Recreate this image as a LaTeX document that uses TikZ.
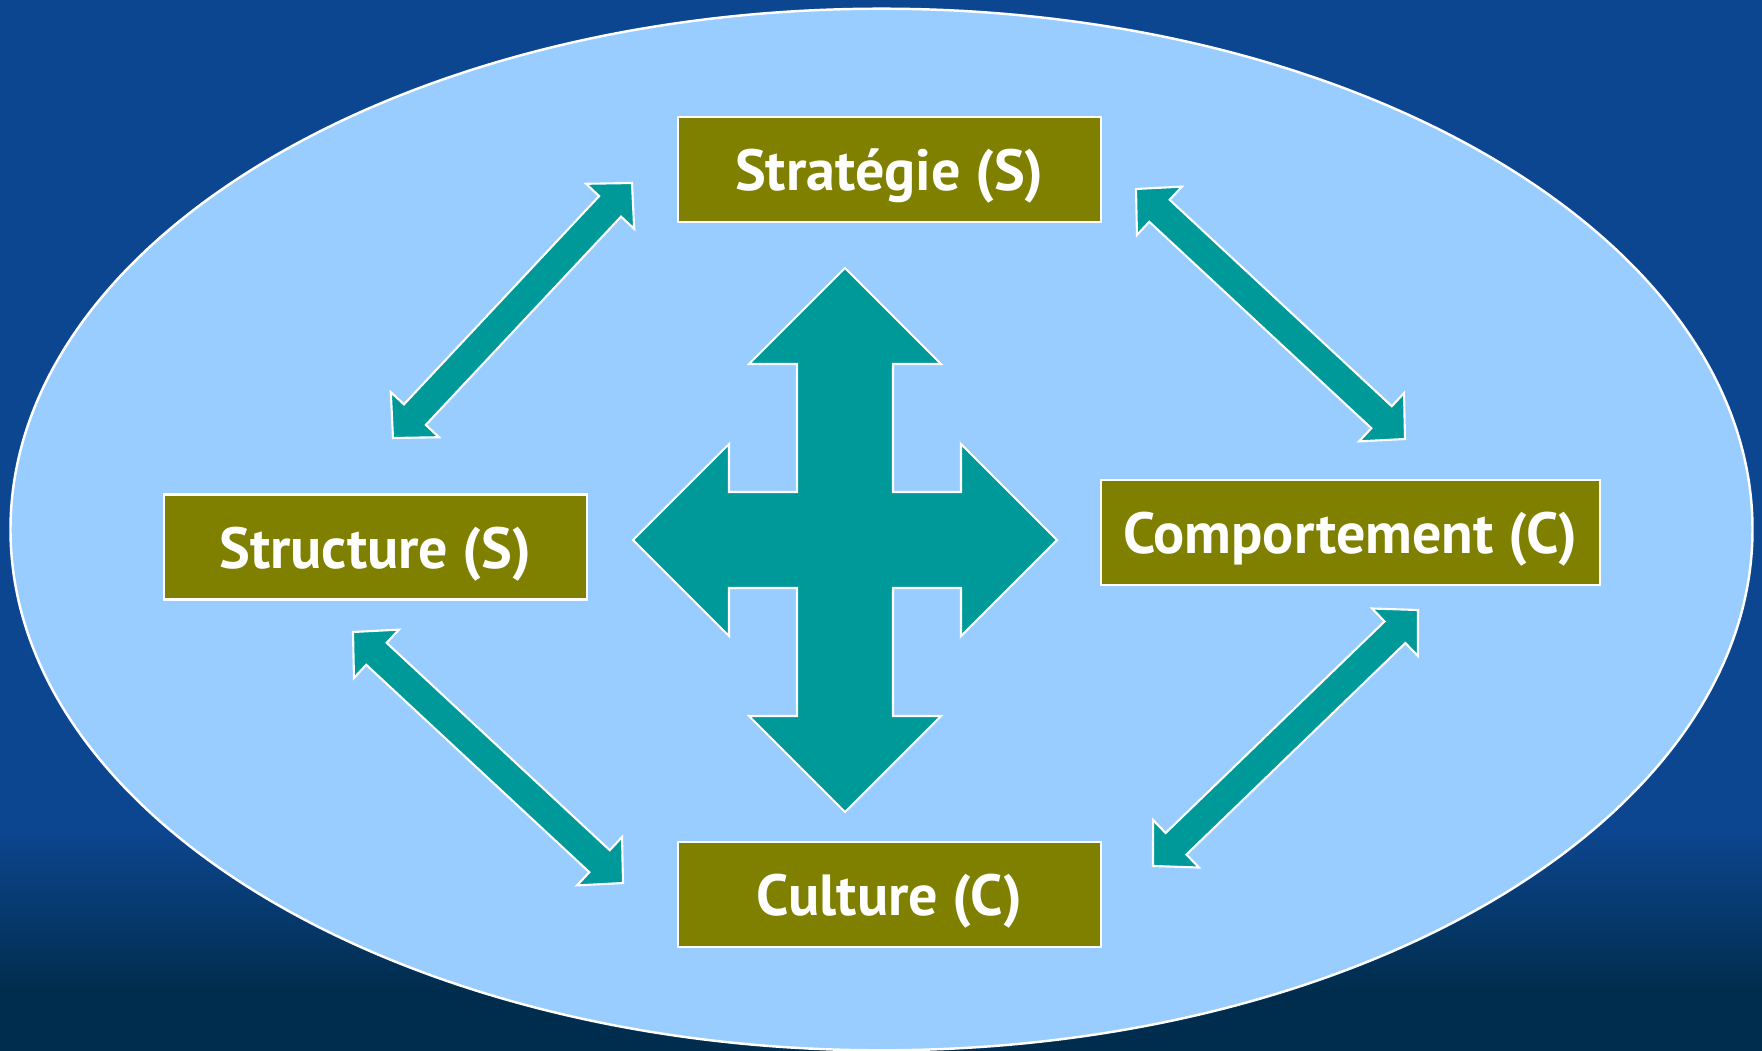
\documentclass[tikz,border=0pt]{standalone}
\usepackage{fontspec}
\setmainfont{PT Sans}
\usepackage{tikz}
\usetikzlibrary{calc}

\definecolor{bgtop}{HTML}{0D4690}
\definecolor{bgbot}{HTML}{002D4D}
\definecolor{ovalblue}{HTML}{99CCFF}
\definecolor{boxolive}{HTML}{808000}
\definecolor{arrowteal}{HTML}{009999}

\tikzset{
  box/.style={draw=white, line width=0.6pt, fill=boxolive, text=white,
    font=\bfseries\fontsize{16.5}{20}\selectfont, text height=13pt, text depth=1pt,
    minimum width=4.23cm, minimum height=1.05cm, inner sep=0pt},
  tealarrow/.style={draw=white, line width=0.6pt, fill=arrowteal, line join=miter},
  oval/.style={draw=white, line width=0.7pt, fill=ovalblue}
}

\begin{document}
\begin{tikzpicture}[x=0.01cm, y=-0.01cm]
		\useasboundingbox (0,0) rectangle (1762,1051);
		% background
		\fill[bgtop] (0,0) rectangle (1762,830);
		\shade[top color=bgtop, bottom color=bgbot] (0,829) rectangle (1762,990);
		\fill[bgbot] (0,989) rectangle (1762,1051);
		
		\draw[oval] (881.5,529.5) ellipse [x radius=8.705cm, y radius=5.205cm];
		
		\node[box] (strategie) at (889.5,169.5) {Stratégie (S)};
		\node[box] (structure) at (375.5,547) {Structure (S)};
		\node[box, minimum width=4.99cm] (comportement) at (1350.5,532.5) {Comportement (C)};
		\node[box] (culture) at (889.5,894.5) {Culture (C)};
		
		% tips of the double arrows
		\coordinate (a1) at (393,438);   \coordinate (b1) at (632,183);
		\coordinate (a2) at (1136,189);  \coordinate (b2) at (1405,439);
		\coordinate (a3) at (353,632);   \coordinate (b3) at (623,883);
		\coordinate (a4) at (1418,610);  \coordinate (b4) at (1153,866);
		
		\foreach \a/\b in {a1/b1, a2/b2, a3/b3, a4/b4} {
			\coordinate (ha) at ($(\a)!0.32cm!(\b)$);
			\coordinate (hb) at ($(\b)!0.32cm!(\a)$);
			\draw[tealarrow] (\a) -- ($(ha)!0.33cm!90:(\a)$) -- ($(ha)!0.15cm!90:(\a)$)
				-- ($(hb)!0.15cm!-90:(\b)$) -- ($(hb)!0.33cm!-90:(\b)$) -- (\b)
				-- ($(hb)!0.33cm!90:(\b)$) -- ($(hb)!0.15cm!90:(\b)$)
				-- ($(ha)!0.15cm!-90:(\a)$) -- ($(ha)!0.33cm!-90:(\a)$) -- cycle;
		}
		
		% central cross
		\draw[tealarrow, shift={(845,540)}] (0,-272) -- (96,-176) -- (48,-176) -- (48,-48)
			-- (116,-48) -- (116,-96) -- (212,0) -- (116,96) -- (116,48) -- (48,48)
			-- (48,176) -- (96,176) -- (0,272) -- (-96,176) -- (-48,176) -- (-48,48)
			-- (-116,48) -- (-116,96) -- (-212,0) -- (-116,-96) -- (-116,-48) -- (-48,-48)
			-- (-48,-176) -- (-96,-176) -- cycle;
	\end{tikzpicture}
\end{document}
